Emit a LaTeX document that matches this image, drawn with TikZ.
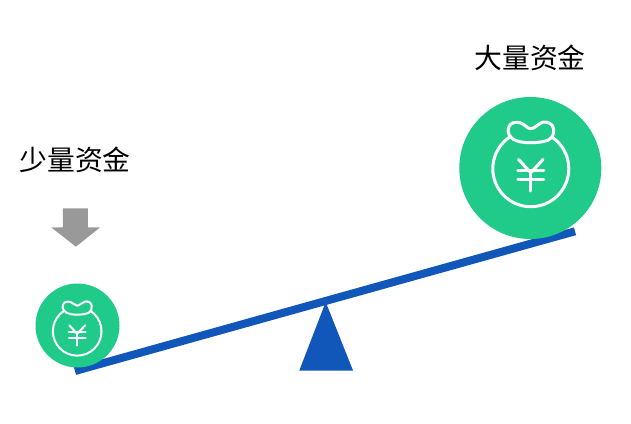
\documentclass[tikz,border=0pt]{standalone}
\usepackage{fontspec}
\newfontfamily\cjk{Noto Sans CJK SC}
\definecolor{coin}{HTML}{20CA88}
\definecolor{beamblue}{HTML}{1157B9}
\definecolor{arrowgrey}{HTML}{999999}
\tikzset{
  coinnode/.style={circle,fill=coin,draw=none,inner sep=0pt,minimum size=#1},
  label text/.style={inner sep=0pt,font=\cjk\fontsize{27.8pt}{30pt}\selectfont,text=black},
  icon line/.style={draw=white,line width=#1,line cap=round,line join=round},
  moneybag/.pic={
    \path[pic actions] (0,0) circle (38);
    \path[pic actions,fill=coin] (0,-26) .. controls (-8,-26) and (-13,-27) .. (-17.3,-29.3)
      .. controls (-21,-32) and (-24,-36) .. (-22.3,-41)
      .. controls (-21,-46) and (-16,-47) .. (-11,-46)
      .. controls (-6,-45) and (-4,-40) .. (0,-40)
      .. controls (4,-40) and (7,-45) .. (12,-46.5)
      .. controls (17,-47.5) and (22,-45) .. (22.7,-40)
      .. controls (24,-35) and (21,-31) .. (17.7,-28.7)
      .. controls (13,-27) and (8,-26) .. (0,-26) -- cycle;
    \path[pic actions] (-12.3,-9.3) -- (0,4) -- (12.3,-9.3);
    \path[pic actions] (-13,1.7) -- (13,1.7);
    \path[pic actions] (-13,10.7) -- (13,10.7);
    \path[pic actions] (0,4) -- (0,22.3);
  }
}
\begin{document}
\begin{tikzpicture}[x=1pt,y=-1pt]
\useasboundingbox (0,0) rectangle (631,423);
% beam and pivot
\coordinate (beamL) at (75,371);
\coordinate (beamR) at (575,231.3);
\coordinate (apex) at (325.7,302);
\coordinate (baseL) at (299.3,370.5);
\coordinate (baseR) at (353,370.5);
\fill[beamblue] (apex) -- (baseR) -- (baseL) -- cycle;
\draw[beamblue,line width=8pt] (beamL) -- (beamR);
% coins
\node[coinnode=142pt] (bigcoin) at (530.3,168) {};
\node[coinnode=84pt] (smallcoin) at (77.5,325.5) {};
\pic[icon line=3pt] at (530.8,168.7) {moneybag};
\pic[icon line=2pt,scale=0.64] at (77.2,331.3) {moneybag};
% arrow
\fill[arrowgrey] (62.9,208.3) -- (87.9,208.3) -- (87.9,227.3) -- (100.2,227.3)
  -- (75.9,246.7) -- (51.2,227.3) -- (62.9,227.3) -- cycle;
% labels
\node[label text] (bigtext) at (530,58) {大量资金};
\node[label text] (smalltext) at (75,160) {少量资金};
\end{tikzpicture}
\end{document}
